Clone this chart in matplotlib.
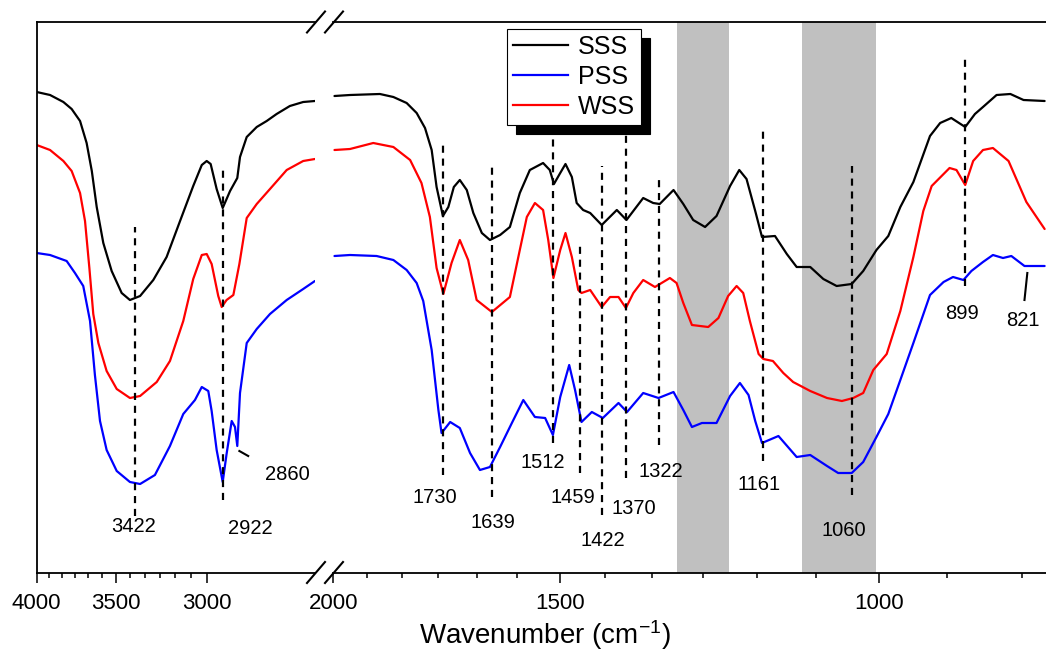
import matplotlib.pyplot as plt
from matplotlib.lines import Line2D
from matplotlib.ticker import FixedLocator, FixedFormatter, NullFormatter

plt.rcParams['font.family'] = ['Liberation Sans', 'DejaVu Sans']
plt.rcParams['mathtext.fontset'] = 'custom'
plt.rcParams['mathtext.rm'] = 'Liberation Sans'
plt.rcParams['mathtext.it'] = 'Liberation Sans:italic'
plt.rcParams['mathtext.bf'] = 'Liberation Sans:bold'

# ---------------- DATA (wavenumber in cm-1, offset transmittance in a.u.) ----------------
# high wavenumber window 4000-2500
sss_hi_wn = [4000, 3911, 3824, 3771, 3718, 3677, 3645, 3615, 3575, 3525, 3466, 3418, 3360, 3286,
             3213, 3141, 3072, 3028, 3003, 2983, 2953, 2923, 2887, 2852, 2839, 2807, 2760, 2714,
             2669, 2610, 2552, 2502]
sss_hi_t = [481, 478, 471, 464, 452, 430, 402, 366, 330, 302, 280, 273, 277, 293,
            316, 352, 387, 408, 412, 409, 384, 365, 382, 395, 416, 436, 446, 452,
            459, 467, 471, 472]

wss_hi_wn = [4000, 3911, 3824, 3771, 3718, 3687, 3660, 3636, 3605, 3555, 3495, 3418, 3360, 3267,
             3195, 3124, 3072, 3028, 3003, 2978, 2945, 2928, 2904, 2871, 2842, 2807, 2760, 2699,
             2624, 2552, 2502]
wss_hi_t = [428, 423, 412, 402, 380, 352, 305, 259, 230, 202, 184, 175, 177, 191,
            212, 252, 294, 318, 319, 309, 277, 266, 273, 278, 309, 355, 369, 384,
            403, 412, 414]

pss_hi_wn = [4000, 3911, 3803, 3750, 3698, 3656, 3626, 3595, 3555, 3495, 3418, 3360, 3277, 3195,
             3124, 3063, 3028, 2995, 2978, 2953, 2923, 2904, 2879, 2863, 2852, 2839, 2807, 2760,
             2699, 2624, 2552, 2502]
pss_hi_t = [320, 318, 312, 300, 287, 252, 198, 152, 123, 102, 91, 89, 98, 127,
            159, 173, 186, 182, 162, 123, 91, 119, 152, 146, 127, 180, 230, 244,
            259, 273, 284, 292]

# low wavenumber window 2000-800
sss_lo_wn = [1997, 1958, 1885, 1853, 1822, 1799, 1780, 1765, 1754, 1740, 1728, 1716, 1703, 1688,
             1674, 1656, 1639, 1618, 1598, 1578, 1558, 1532, 1519, 1511, 1499, 1489, 1477, 1468,
             1456, 1443, 1422, 1395, 1378, 1349, 1332, 1321, 1298, 1282, 1266, 1247, 1229, 1208,
             1194, 1183, 1170, 1160, 1141, 1124, 1110, 1091, 1073, 1055, 1035, 1020, 1003, 988,
             973, 957, 937, 925, 912, 896, 885, 876, 861, 846, 832, 810]
sss_lo_t = [477, 478, 479, 476, 470, 460, 445, 423, 386, 357, 366, 386, 393, 383,
            360, 340, 333, 338, 346, 380, 403, 410, 403, 389, 400, 409, 396, 370,
            363, 360, 348, 363, 353, 375, 370, 369, 383, 369, 353, 346, 357, 387,
            403, 394, 362, 336, 337, 319, 306, 306, 294, 287, 289, 302, 323, 337,
            366, 391, 437, 450, 455, 446, 459, 466, 478, 479, 473, 472]

wss_lo_wn = [1997, 1958, 1901, 1853, 1814, 1788, 1769, 1754, 1739, 1721, 1703, 1685, 1667, 1635,
             1598, 1578, 1564, 1548, 1532, 1522, 1512, 1499, 1489, 1477, 1465, 1459, 1443, 1422,
             1407, 1392, 1379, 1366, 1349, 1329, 1304, 1293, 1282, 1268, 1242, 1226, 1211, 1198,
             1188, 1178, 1165, 1158, 1144, 1129, 1115, 1091, 1068, 1048, 1033, 1020, 1007, 990,
             973, 957, 945, 935, 914, 906, 896, 887, 876, 865, 848, 829, 810]
wss_lo_t = [423, 424, 430, 426, 413, 390, 356, 305, 279, 310, 333, 313, 273, 261,
            276, 323, 356, 370, 363, 333, 295, 323, 340, 316, 283, 280, 283, 266,
            276, 276, 265, 280, 293, 286, 295, 290, 270, 248, 246, 255, 277, 287,
            280, 252, 219, 214, 212, 200, 191, 182, 175, 172, 175, 180, 203, 219,
            262, 316, 362, 387, 405, 403, 388, 412, 423, 425, 412, 371, 344]

pss_lo_wn = [1997, 1958, 1893, 1853, 1822, 1799, 1784, 1765, 1750, 1743, 1724, 1703, 1681, 1660,
             1639, 1618, 1594, 1571, 1548, 1528, 1513, 1499, 1482, 1471, 1459, 1440, 1420, 1392,
             1377, 1349, 1323, 1298, 1282, 1268, 1252, 1229, 1208, 1193, 1180, 1170, 1160, 1136,
             1110, 1091, 1068, 1053, 1035, 1020, 1003, 988, 973, 957, 937, 921, 910, 898,
             889, 876, 865, 854, 845, 831, 810]
pss_lo_t = [317, 318, 317, 313, 303, 290, 272, 223, 163, 140, 151, 145, 120, 103,
            106, 126, 150, 173, 156, 155, 138, 176, 208, 183, 151, 161, 155, 170,
            161, 180, 175, 181, 163, 146, 150, 150, 177, 190, 178, 152, 130, 137,
            116, 118, 107, 100, 100, 111, 136, 159, 193, 230, 278, 291, 296, 293,
            302, 311, 318, 315, 317, 307, 307]

# dashed peak markers: position, top, bottom
peak_hi_wn = [3389, 2923]
peak_hi_top = [346, 403]
peak_hi_bot = [57, 73]
peak_lo_wn = [1740, 1635, 1512, 1461, 1422, 1378, 1322, 1159, 1035, 896]
peak_lo_top = [428, 406, 440, 328, 407, 440, 396, 442, 407, 516]
peak_lo_bot = [98, 76, 130, 100, 58, 95, 128, 112, 78, 287]

# peak labels
label_hi_text = ['3422', '2922', '2860']
label_hi_wn = [3395, 2792, 2621]
label_hi_t = [46, 44, 98]
label_lo_text = ['1730', '1639', '1512', '1459', '1422', '1370', '1322', '1161', '1060', '899', '821']
label_lo_wn = [1758, 1633, 1532, 1475, 1420, 1366, 1319, 1164, 1046, 900, 833]
label_lo_t = [75, 51, 110, 75, 33, 65, 101, 88, 43, 259, 252]

# short leader lines for 2860 and 821
lead_2860_wn = [2842, 2800]
lead_2860_t = [122, 117]
lead_821_wn = [828, 831]
lead_821_t = [300, 273]

# shaded bands
band_lo = [(1292, 1210), (1103, 1004)]

# ---------------- FIGURE ----------------
W, H = 1046, 650
fig = plt.figure(figsize=(W / 100, H / 100), dpi=100)


def fx(x):
    return x / W


def fy(y):
    return 1 - y / H


ax_hi = fig.add_axes([fx(36.7), fy(573), (315.4 - 36.7) / W, 551 / H])
ax_lo = fig.add_axes([fx(333.3), fy(573), 721.1 / W, 551 / H])

for ax, lim in [(ax_hi, (4000, 2500)), (ax_lo, (2000, 800))]:
    ax.set_xscale('log')
    ax.set_xlim(*lim)
    ax.set_ylim(0, 551)
    ax.set_yticks([])
    ax.spines['right'].set_visible(False)
    for s in ax.spines.values():
        s.set_linewidth(1.3)
    ax.tick_params(axis='x', which='major', direction='out', length=7.5, width=1.1,
                   labelsize=16, pad=7, top=False)
    ax.tick_params(axis='x', which='minor', direction='out', length=3.3, width=1.1, top=False)
ax_lo.spines['left'].set_visible(False)

step = 500 / 6
ax_hi.xaxis.set_major_locator(FixedLocator([4000, 3500, 3000]))
ax_hi.xaxis.set_major_formatter(FixedFormatter(['4000', '3500', '3000']))
ax_hi.xaxis.set_minor_locator(FixedLocator([4000 - step * i for i in range(1, 12) if i != 6]))
ax_hi.xaxis.set_minor_formatter(NullFormatter())
ax_lo.xaxis.set_major_locator(FixedLocator([2000, 1500, 1000]))
ax_lo.xaxis.set_major_formatter(FixedFormatter(['2000', '1500', '1000']))
ax_lo.xaxis.set_minor_locator(FixedLocator([2000 - step * i for i in range(1, 15) if i % 6 != 0]))
ax_lo.xaxis.set_minor_formatter(NullFormatter())

for a, b in band_lo:
    ax_lo.axvspan(a, b, color='#c0c0c0', lw=0, zorder=0)

lw = 1.6
style = dict(lw=lw, solid_joinstyle='round', solid_capstyle='round')
ax_hi.plot(sss_hi_wn, sss_hi_t, color='black', **style)
ax_hi.plot(wss_hi_wn, wss_hi_t, color='red', **style)
ax_hi.plot(pss_hi_wn, pss_hi_t, color='blue', **style)
ax_lo.plot(sss_lo_wn, sss_lo_t, color='black', **style)
ax_lo.plot(wss_lo_wn, wss_lo_t, color='red', **style)
ax_lo.plot(pss_lo_wn, pss_lo_t, color='blue', **style)

dash = (0, (3.2, 2.6))
ax_hi.vlines(peak_hi_wn, peak_hi_bot, peak_hi_top, colors='black', linestyles=dash, lw=1.6)
ax_lo.vlines(peak_lo_wn, peak_lo_bot, peak_lo_top, colors='black', linestyles=dash, lw=1.6)

for txt, x, y in zip(label_hi_text, label_hi_wn, label_hi_t):
    ax_hi.text(x, y, txt, ha='center', va='center', fontsize=14.5)
for txt, x, y in zip(label_lo_text, label_lo_wn, label_lo_t):
    ax_lo.text(x, y, txt, ha='center', va='center', fontsize=14.5)
ax_hi.plot(lead_2860_wn, lead_2860_t, color='black', lw=1.5)
ax_lo.plot(lead_821_wn, lead_821_t, color='black', lw=1.5)

# axis break marks
for yc in (22, 572.5):
    for xc in (316, 334):
        fig.add_artist(Line2D([fx(xc - 9), fx(xc + 9)], [fy(yc + 10.5), fy(yc - 10.5)],
                              color='black', lw=1.5))

fig.text(fx(545), fy(635), 'Wavenumber (cm$^{-1}$)', ha='center', va='center', fontsize=20)

handles = [Line2D([], [], color='black', lw=1.6, label='SSS'),
           Line2D([], [], color='blue', lw=1.6, label='PSS'),
           Line2D([], [], color='red', lw=1.6, label='WSS')]
leg = ax_lo.legend(handles=handles, loc='upper left', bbox_to_anchor=(fx(507), fy(29)),
                   bbox_transform=fig.transFigure, borderaxespad=0, fontsize=18,
                   fancybox=False, edgecolor='black', framealpha=1,
                   shadow={'ox': 6.5, 'oy': -6.5, 'facecolor': 'black', 'edgecolor': 'black', 'alpha': 1},
                   handlelength=2.2, handletextpad=0.4, labelspacing=0.24, borderpad=0.24)
leg.get_frame().set_linewidth(0.8)

fig.savefig('out.png', dpi=100)
